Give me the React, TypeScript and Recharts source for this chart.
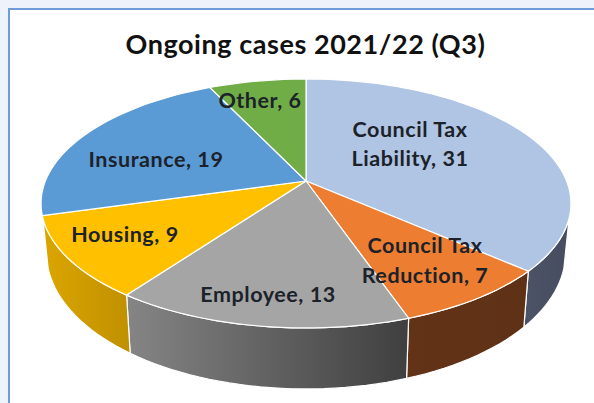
import { PieChart, Pie } from "recharts";

const categories = [
  "Council Tax Liability",
  "Council Tax Reduction",
  "Employee",
  "Housing",
  "Insurance",
  "Other",
];
const values = [31, 7, 13, 9, 19, 6];
const topColors = ["#b0c4e3", "#ed7d31", "#a5a5a5", "#ffc000", "#5b9bd5", "#70ad47"];
// side wall gradient, left colour then right colour
const sideColors = [
  ["#4c5367", "#464d60"],
  ["#633317", "#5e3116"],
  ["#858585", "#3f3f3f"],
  ["#dca600", "#bf9000"],
  ["#37618a", "#37618a"],
  ["#43682b", "#43682b"],
];
const labelLines = [
  ["Council Tax", "Liability, 31"],
  ["Council Tax", "Reduction, 7"],
  ["Employee, 13"],
  ["Housing, 9"],
  ["Insurance, 19"],
  ["Other, 6"],
];
const labelCentres = [
  [410, 144],
  [425, 261],
  [268, 295],
  [125, 235],
  [156, 160],
  [260, 101],
];

const data = categories.map((name, i) => ({ name, value: values[i] }));

// tilted-disc projection, angles are clockwise from 12 o'clock
const TILT = -0.1807;
const WIDE = 260.6;
const DROP = 87.7;
const WALL_FROM = 107;
const WALL_TO = 253;

const project = (cx: number, cy: number, deg: number) => {
  const u = Math.sin((deg * Math.PI) / 180);
  const v = -Math.cos((deg * Math.PI) / 180);
  const w = 1 + TILT * v;
  return { x: cx + (WIDE * u) / w, y: (cy + DROP * v) / w, v };
};

const arcPoints = (cx: number, cy: number, from: number, to: number) => {
  const pts = [];
  const steps = Math.max(2, Math.ceil((to - from) / 2));
  for (let i = 0; i <= steps; i++) {
    pts.push(project(cx, cy, from + ((to - from) * i) / steps));
  }
  return pts;
};

const toPath = (pts: { x: number; y: number }[]) =>
  pts.map((p, i) => `${i ? "L" : "M"}${p.x.toFixed(2)} ${p.y.toFixed(2)}`).join(" ");

const Slice3D = (props: any) => {
  const { cx, cy, startAngle, endAngle, fill, index } = props;
  const from = 90 - startAngle;
  const to = 90 - endAngle;
  const top = arcPoints(cx, cy, from, to);
  const topPath = `M${cx} ${cy} ${toPath(top).replace("M", "L")} Z`;

  const wallFrom = Math.max(from, WALL_FROM);
  const wallTo = Math.min(to, WALL_TO);
  let wall = null;
  if (wallTo > wallFrom) {
    const upper = arcPoints(cx, cy, wallFrom, wallTo);
    const lower = upper
      .map((p) => ({ x: cx + (p.x - cx) * 0.98, y: p.y + 46 + 15 * p.v }))
      .reverse();
    const xs = upper.concat(lower).map((p) => p.x);
    const id = `wall-${index}`;
    wall = (
      <g>
        <defs>
          <linearGradient
            id={id}
            gradientUnits="userSpaceOnUse"
            x1={Math.min(...xs)}
            x2={Math.max(...xs)}
            y1="0"
            y2="0"
          >
            <stop offset="0%" stopColor={sideColors[index][0]} />
            <stop offset="100%" stopColor={sideColors[index][1]} />
          </linearGradient>
        </defs>
        <path
          d={`${toPath(upper)} ${toPath(lower).replace("M", "L")} Z`}
          fill={`url(#${id})`}
          stroke="#ffffff"
          strokeWidth={1.2}
        />
      </g>
    );
  }

  return (
    <g>
      {wall}
      <path d={topPath} fill={fill} stroke="#ffffff" strokeWidth={1.2} />
    </g>
  );
};

const renderLabel = (props: any) => {
  const { index } = props;
  const lines = labelLines[index];
  const [x, y] = labelCentres[index];
  const lineGap = index === 1 ? 30 : 29;
  return (
    <text
      key={index}
      x={x}
      textAnchor="middle"
      fontFamily="Lato, sans-serif"
      fontWeight={700}
      fontSize={21.5}
      letterSpacing={0.55}
      fill="#1c2229"
    >
      {lines.map((line, i) => (
        <tspan
          key={line}
          x={x}
          y={y + 7 + (i - (lines.length - 1) / 2) * lineGap}
        >
          {line}
        </tspan>
      ))}
    </text>
  );
};

export default function App() {
  return (
    <div
      style={{
        position: "fixed",
        left: 0,
        top: 0,
        width: 594,
        height: 403,
        overflow: "hidden",
        background: "#eef3fb",
      }}
    >
      <div
        style={{
          position: "absolute",
          left: 8,
          top: 8,
          width: 586,
          height: 395,
          boxSizing: "border-box",
          background: "#ffffff",
          borderLeft: "2px solid #6f9bd8",
          borderTop: "2px solid #6f9bd8",
        }}
      />
      <div style={{ position: "absolute", left: 0, top: 0 }}>
        <PieChart
          width={594}
          height={403}
          margin={{ top: 0, right: 0, bottom: 0, left: 0 }}
        >
          <text
            x={305.5}
            y={54}
            textAnchor="middle"
            fontFamily="Lato, sans-serif"
            fontWeight={700}
            fontSize={27}
            letterSpacing={0.55}
            fill="#111111"
          >
            Ongoing cases 2021/22 (Q3)
          </text>
          <Pie
            data={data}
            dataKey="value"
            nameKey="name"
            cx={306}
            cy={181}
            outerRadius={100}
            startAngle={90}
            endAngle={-270}
            paddingAngle={0}
            shape={(props: any) => (
              <Slice3D {...props} fill={topColors[props.index]} />
            )}
            label={renderLabel}
            labelLine={false}
            isAnimationActive={false}
          />
        </PieChart>
      </div>
    </div>
  );
}
